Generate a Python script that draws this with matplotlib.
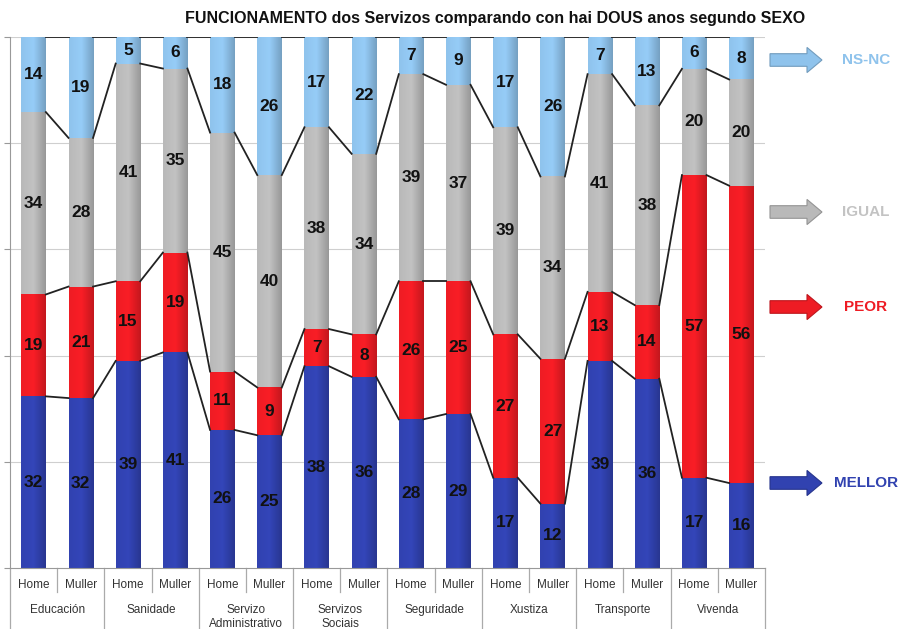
import numpy as np
import matplotlib.pyplot as plt
from matplotlib.patches import FancyArrow
from matplotlib.colors import LinearSegmentedColormap, to_rgb

plt.rcParams['font.family'] = ['Liberation Sans', 'DejaVu Sans']

# data (percentages)
servizos = ['Educación', 'Sanidade', 'Servizo\nAdministrativo', 'Servizos\nSociais',
            'Seguridade', 'Xustiza', 'Transporte', 'Vivenda']
sexos = ['Home', 'Muller']
mellor = [32, 32, 39, 41, 26, 25, 38, 36, 28, 29, 17, 12, 39, 36, 17, 16]
peor   = [19, 21, 15, 19, 11, 9, 7, 8, 26, 25, 27, 27, 13, 14, 57, 56]
igual  = [34, 28, 41, 35, 45, 40, 38, 34, 39, 37, 39, 34, 41, 38, 20, 20]
nsnc   = [14, 19, 5, 6, 18, 26, 17, 22, 7, 9, 17, 26, 7, 13, 6, 8]
series_names = ['MELLOR', 'PEOR', 'IGUAL', 'NS-NC']
colours = ['#3142b0', '#ee1c24', '#b9b9b9', '#8fc3ec']
text_colours = ['#3142b0', '#ee1c24', '#c3c3c3', '#8fc3ec']

data = np.array([mellor, peor, igual, nsnc], dtype=float)
pct = data / data.sum(axis=0) * 100
n = pct.shape[1]
x = np.arange(n)
w = 0.52

fig = plt.figure(figsize=(9.12, 6.29), dpi=100)
ax = fig.add_axes([10/912, 1-568/629, 755/912, 531/629])
ax.set_xlim(-0.5, n-0.5)
ax.set_ylim(0, 100)

for yv in range(20, 101, 20):
    ax.axhline(yv, color='#cfcfcf', lw=0.8, zorder=0)

def shade(c, f):
    r = np.array(to_rgb(c))
    return tuple(np.clip(r * f, 0, 1))

grad = np.linspace(0, 1, 64).reshape(1, -1)
bottom = np.zeros(n)
for k in range(4):
    cmap = LinearSegmentedColormap.from_list('g', [shade(colours[k], 1.0), shade(colours[k], 1.05),
                                                    shade(colours[k], 0.82)])
    bars = ax.bar(x, pct[k], w, bottom=bottom, color=colours[k], edgecolor='none', zorder=2)
    for i, b in enumerate(bars):
        im = ax.imshow(grad, cmap=cmap, aspect='auto', zorder=2.5,
                       extent=(x[i]-w/2, x[i]+w/2, bottom[i], bottom[i]+pct[k][i]))
        im.set_clip_path(b)
        ax.text(x[i], bottom[i] + pct[k][i]/2, str(int(data[k][i])), ha='center', va='center',
                fontsize=12.5, fontweight='bold', color='#111111', zorder=4)
    bottom = bottom + pct[k]
    # series lines between bars
    for i in range(n-1):
        ax.plot([x[i]+w/2, x[i+1]-w/2], [bottom[i], bottom[i+1]], color='#222222', lw=1.3, zorder=3)

ax.set_xticks([])
ax.set_yticks(range(0, 101, 20))
ax.set_yticklabels([])
ax.tick_params(axis='y', length=4, color='#999999', direction='out')
for s in ['top', 'right']:
    ax.spines[s].set_visible(False)
ax.spines['left'].set_color('#999999')
ax.spines['bottom'].set_color('#999999')

# two-level category axis
tr = ax.get_xaxis_transform()
for i in range(n):
    ax.text(x[i], -0.021, sexos[i % 2], transform=tr, ha='center', va='top',
            fontsize=8.5, color='#333333')
for g in range(len(servizos)):
    ax.text(2*g + 0.5, -0.068, servizos[g], transform=tr, ha='center', va='top',
            fontsize=8.5, color='#333333', linespacing=1.25, clip_on=False)
for i in range(n+1):
    xe = i - 0.5
    y1 = -0.046 if i % 2 == 1 else -0.12
    ax.plot([xe, xe], [0, y1], transform=tr, color='#aaaaaa', lw=0.9, clip_on=False)

# legend arrows on the right
legend_y = [483, 307, 212, 60]
for k in range(4):
    yf = 1 - legend_y[k]/629
    fig.add_artist(FancyArrow(
        770/912, yf, 52/912, 0, width=0.02, head_width=0.04, head_length=15/912,
        length_includes_head=True, transform=fig.transFigure,
        facecolor=colours[k], edgecolor=shade(colours[k], 0.8), lw=0.8))
    fig.text(866/912, yf, series_names[k], ha='center', va='center', fontsize=11,
             fontweight='bold', color=text_colours[k])

fig.text(495/912, 1-18/629, 'FUNCIONAMENTO dos Servizos comparando con hai DOUS anos segundo SEXO',
         ha='center', va='center', fontsize=11.5, fontweight='bold', color='#111111')

fig.savefig('out.png', dpi=100)
